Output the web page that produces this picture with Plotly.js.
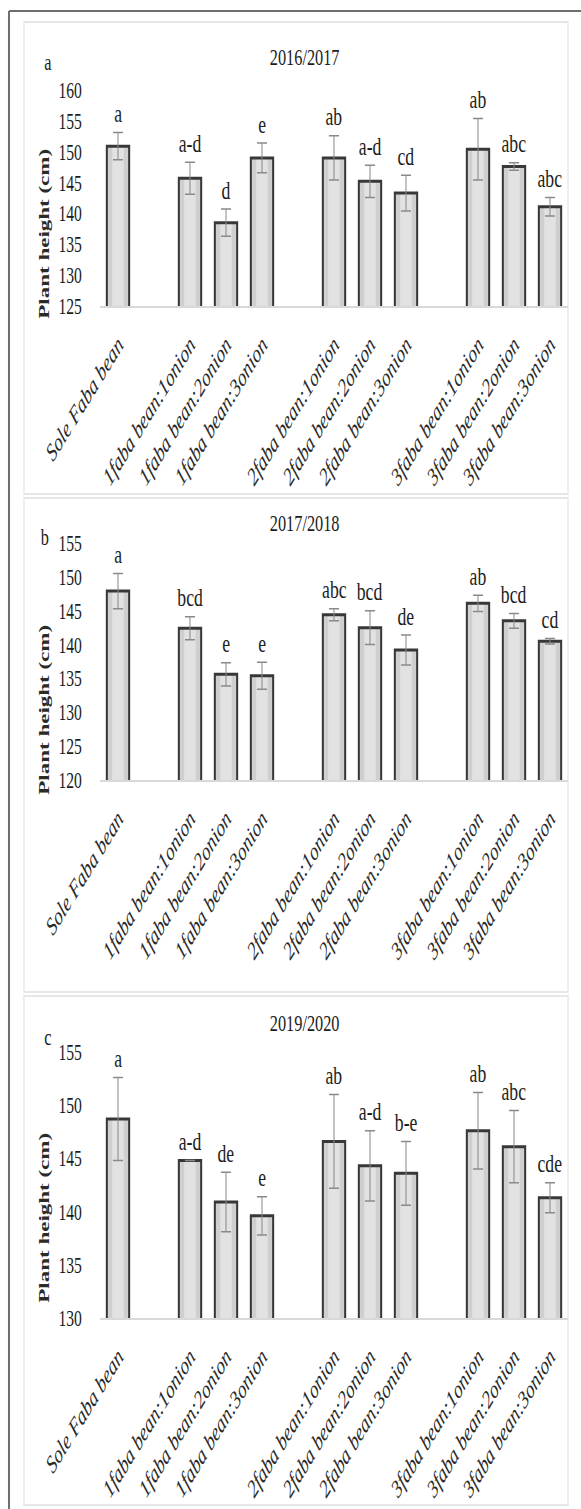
<!DOCTYPE html>
<html>
<head>
<meta charset="utf-8">
<script src="https://cdn.plot.ly/plotly-3.0.1.min.js"></script>
<style>
  html, body { margin: 0; padding: 0; background: #ffffff; overflow: hidden; }
  #wrap { width: 581px; height: 1509px; overflow: hidden; position: relative; }
  /* the figure is laid out wide and squeezed horizontally, giving the narrow serif lettering */
  #chart { width: 855px; height: 1509px; transform: scaleX(0.679532); transform-origin: 0 0; }
</style>
</head>
<body>
<div id="wrap"><div id="chart"></div></div>
<script>
// Treatments, in the order they appear along the axis
const categories = [
  'Sole Faba bean',
  '1faba bean:1onion', '1faba bean:2onion', '1faba bean:3onion',
  '2faba bean:1onion', '2faba bean:2onion', '2faba bean:3onion',
  '3faba bean:1onion', '3faba bean:2onion', '3faba bean:3onion'
];
// how many treatments sit together before a gap on the axis
const groupSizes = [1, 3, 3, 3];

// Plant height (cm), mean and error, per season
const height2016 = [150.9, 145.7, 138.5, 149.0, 149.0, 145.2, 143.3, 150.4, 147.6, 141.1];
const error2016  = [2.2, 2.6, 2.2, 2.4, 3.6, 2.6, 2.9, 5.0, 0.6, 1.5];
const letters2016 = ['a', 'a-d', 'd', 'e', 'ab', 'a-d', 'cd', 'ab', 'abc', 'abc'];

const height2017 = [147.9, 142.4, 135.6, 135.4, 144.4, 142.5, 139.2, 146.1, 143.5, 140.5];
const error2017  = [2.6, 1.7, 1.7, 2.0, 0.9, 2.5, 2.2, 1.2, 1.1, 0.4];
const letters2017 = ['a', 'bcd', 'e', 'e', 'abc', 'bcd', 'de', 'ab', 'bcd', 'cd'];

const height2019 = [148.7, 144.8, 140.9, 139.6, 146.6, 144.3, 143.6, 147.6, 146.1, 141.3];
const error2019  = [3.9, 0, 2.8, 1.8, 4.4, 3.3, 3.0, 3.6, 3.4, 1.4];
const letters2019 = ['a', 'a-d', 'de', 'e', 'ab', 'a-d', 'b-e', 'ab', 'abc', 'cde'];

const seasons = ['2016/2017', '2017/2018', '2019/2020'];
const panelTags = ['a', 'b', 'c'];
const yRanges = [[125, 160], [120, 155], [130, 155]];

// ---- layout helpers (page pixels -> paper fractions) ----
const PAGE_W = 581, PAGE_H = 1509;
const fx = x => x / PAGE_W;
const fy = y => 1 - y / PAGE_H;

// slot positions on the axis, with an empty slot after each group
const slots = [];
(function () {
  let p = 0;
  groupSizes.forEach(n => { for (let i = 0; i < n; i++) slots.push(p++); p++; });
})();
const xMax = slots[slots.length - 1];

const serif = 'Liberation Serif, Times New Roman, serif';
const ink = '#1c1c1c';

const panels = [
  { mean: height2016, err: error2016, letters: letters2016, plot: [90, 306],  box: [22, 494],   title: 57,   tag: [48, 62],   ytitle: 234 },
  { mean: height2017, err: error2017, letters: letters2017, plot: [543, 780], box: [498, 992],  title: 523,  tag: [45, 537],  ytitle: 710 },
  { mean: height2019, err: error2019, letters: letters2019, plot: [1052, 1318], box: [996, 1505], title: 1023, tag: [48, 1037], ytitle: 1218 }
];

const data = [];
const layout = {
  width: 855, height: 1509,
  margin: { l: 0, r: 0, t: 0, b: 0 },
  paper_bgcolor: '#ffffff', plot_bgcolor: 'rgba(0,0,0,0)',
  showlegend: false, barmode: 'overlay', hovermode: false,
  shapes: [], annotations: []
};

// outer frame (left and top)
layout.shapes.push({ type: 'line', xref: 'paper', yref: 'paper', x0: fx(9), x1: fx(9), y0: fy(11), y1: 0,
  line: { color: '#6e6e6e', width: 3 } });
layout.shapes.push({ type: 'line', xref: 'paper', yref: 'paper', x0: fx(9), x1: 1, y0: fy(11), y1: fy(11),
  line: { color: '#6e6e6e', width: 2 } });

panels.forEach((p, i) => {
  const n = i === 0 ? '' : String(i + 1);
  const xa = 'x' + n, ya = 'y' + n;

  // bar body: grey fill with a lighter middle band
  data.push({ type: 'bar', x: slots, y: p.mean, xaxis: xa, yaxis: ya, width: 0.62,
    marker: { color: '#cfcfcf', line: { width: 0 } }, hoverinfo: 'skip' });
  data.push({ type: 'bar', x: slots, y: p.mean, xaxis: xa, yaxis: ya, width: 0.32,
    marker: { color: '#e2e2e2', line: { width: 0 } }, hoverinfo: 'skip' });
  // outline and error bars
  data.push({ type: 'bar', x: slots, y: p.mean, xaxis: xa, yaxis: ya, width: 0.62,
    marker: { color: 'rgba(0,0,0,0)', line: { color: '#383838', width: 3 } },
    error_y: { type: 'data', array: p.err, visible: true, color: '#8a8a8a', thickness: 1.5, width: 7.4 },
    hoverinfo: 'skip' });

  layout['xaxis' + n] = {
    domain: [fx(100), fx(568)], range: [-0.5, xMax + 0.5], anchor: ya,
    tickmode: 'array', tickvals: slots, ticktext: categories, tickangle: -48,
    tickfont: { family: serif, size: 25, color: '#2a2a2a', style: 'italic' },
    showline: true, linecolor: '#d9d9d9', linewidth: 2,
    ticks: 'outside', ticklen: 12, tickcolor: 'rgba(0,0,0,0)',
    showgrid: false, zeroline: false, fixedrange: true
  };
  layout['yaxis' + n] = {
    domain: [fy(p.plot[1]), fy(p.plot[0])], range: yRanges[i], anchor: xa,
    dtick: 5, tick0: 0, ticks: 'outside', ticklen: 21, tickcolor: 'rgba(0,0,0,0)',
    tickfont: { family: serif, size: 23, color: ink },
    showline: false, showgrid: false, zeroline: false, fixedrange: true
  };

  // panel box
  layout.shapes.push({ type: 'rect', xref: 'paper', yref: 'paper', layer: 'below',
    x0: fx(24), x1: fx(568), y0: fy(p.box[1]), y1: fy(p.box[0]),
    line: { color: '#e6e6e6', width: 2 }, fillcolor: 'rgba(0,0,0,0)' });

  // season title, panel tag and axis title
  layout.annotations.push({ xref: 'paper', yref: 'paper', x: fx(305), y: fy(p.title), text: seasons[i],
    showarrow: false, xanchor: 'center', yanchor: 'middle', font: { family: serif, size: 24, color: ink } });
  layout.annotations.push({ xref: 'paper', yref: 'paper', x: fx(p.tag[0]), y: fy(p.tag[1]), text: panelTags[i],
    showarrow: false, xanchor: 'center', yanchor: 'middle', font: { family: serif, size: 24, color: ink } });
  layout.annotations.push({ xref: 'paper', yref: 'paper', x: fx(44), y: fy(p.ytitle), text: '<b>Plant height (cm)</b>',
    textangle: -90, showarrow: false, xanchor: 'center', yanchor: 'middle',
    font: { family: serif, size: 23, color: '#2a2a2a' } });

  // significance letters above each error bar
  p.letters.forEach((t, k) => {
    layout.annotations.push({ xref: xa, yref: ya, x: slots[k], y: p.mean[k] + p.err[k], text: t,
      showarrow: false, xanchor: 'center', yanchor: 'middle', yshift: 19,
      font: { family: serif, size: 26, color: ink } });
  });
});

Plotly.newPlot('chart', data, layout, { staticPlot: true, displayModeBar: false });
</script>
</body>
</html>
